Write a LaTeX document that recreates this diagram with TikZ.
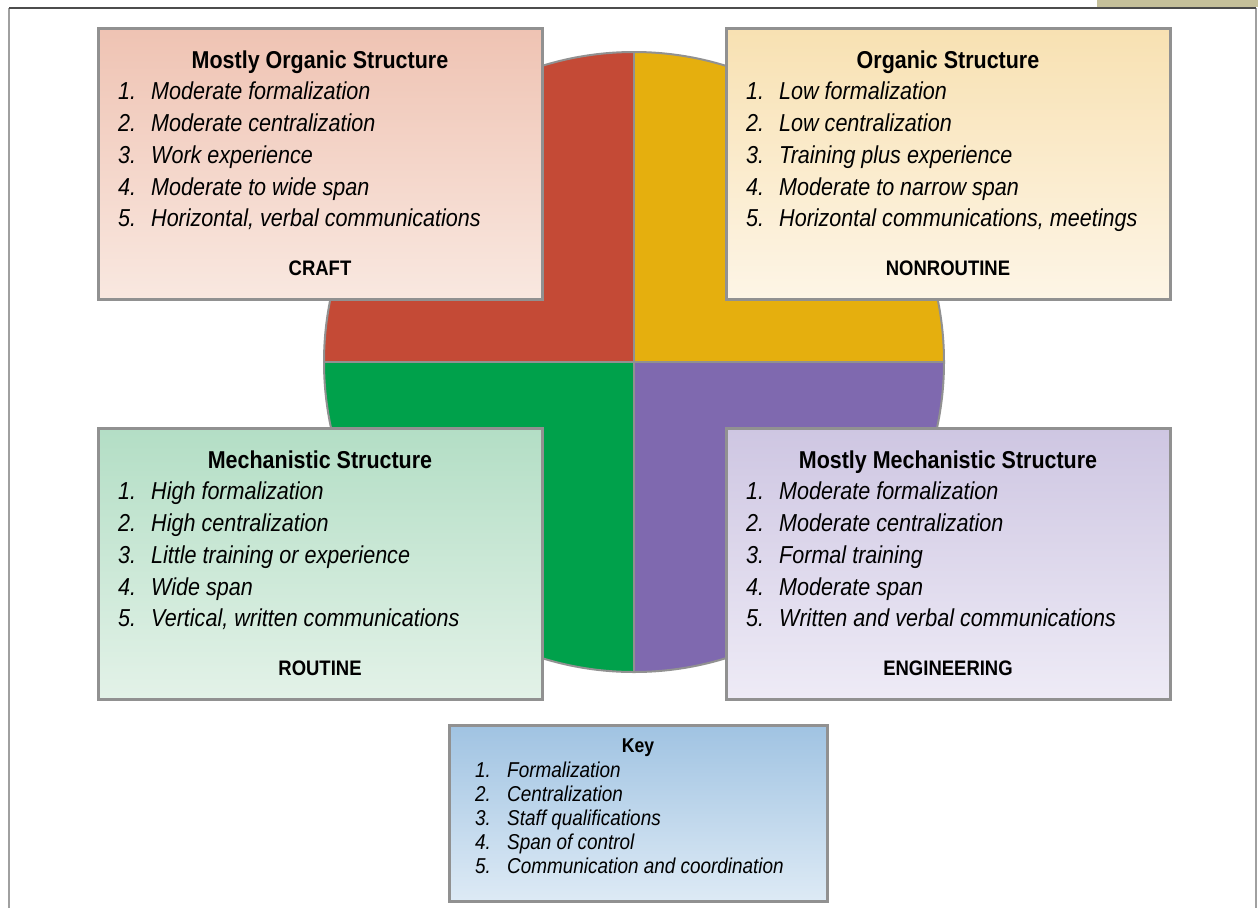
\documentclass[tikz,border=0pt]{standalone}
\usepackage{fontspec}
\setmainfont{Liberation Sans}[FakeStretch=0.88]
\usetikzlibrary{calc}
\definecolor{rust}{RGB}{196,74,54}
\definecolor{gold}{RGB}{229,175,14}
\definecolor{leaf}{RGB}{0,161,75}
\definecolor{violet}{RGB}{127,105,175}
\definecolor{rim}{RGB}{145,145,145}
\definecolor{frameline}{RGB}{160,160,160}
\definecolor{sand}{RGB}{197,192,154}
\definecolor{crafttop}{RGB}{239,195,179}
\definecolor{craftbot}{RGB}{249,232,224}
\definecolor{nontop}{RGB}{248,225,178}
\definecolor{nonbot}{RGB}{253,245,230}
\definecolor{routop}{RGB}{179,222,197}
\definecolor{roubot}{RGB}{227,242,232}
\definecolor{engtop}{RGB}{206,198,226}
\definecolor{engbot}{RGB}{238,235,246}
\definecolor{keytop}{RGB}{160,195,226}
\definecolor{keybot}{RGB}{221,234,245}
\tikzset{
  panel/.style 2 args={draw=rim,line width=3pt,top color=#1,bottom color=#2,
    minimum width=444pt,minimum height=271pt,inner sep=0pt,anchor=north west},
  ptitle/.style={font=\fontsize{24.4}{29}\selectfont\bfseries,inner sep=0pt,anchor=base},
  pitem/.style={font=\fontsize{24.5}{29}\selectfont\itshape,inner sep=0pt,anchor=base west},
  plabel/.style={font=\fontsize{21}{25}\selectfont\bfseries,inner sep=0pt,anchor=base},
  keytitle/.style={font=\fontsize{20}{24}\selectfont\bfseries,inner sep=0pt,anchor=base},
  keyitem/.style={font=\fontsize{21.5}{26}\selectfont\itshape,inner sep=0pt,anchor=base west},
  quarter/.style={fill=#1},
}
% one coloured box with title, numbered list and label
\newcommand{\panel}[8]{%
  \node[panel={#4}{#5}] (#1) at (#2,#3) {};
  \node[ptitle] (#1-title) at ($(#1.north)+(0,41.5)$) {#6};
  \foreach \txt [count=\i] in {#7} {
    \node[pitem] (#1-\i) at ($(#1.north west)+(21.5,41.5+31.75*\i)$) {\makebox[33pt][l]{\i.}\txt};
  }
  \node[plabel] (#1-label) at ($(#1.north)+(0,248.5)$) {#8};
}

\begin{document}
\begin{tikzpicture}[x=1pt,y=-1pt]
  \useasboundingbox (0,0) rectangle (1258,908);
  % frame
  \fill[sand] (1097,0) rectangle (1258,7);
  \draw[frameline,line width=2pt] (9,908) -- (9,8);
  \draw[frameline,line width=2pt] (1256,8) -- (1256,908);
  \draw[black!70,line width=1.5pt] (9,8) -- (1256,8);

  % circle in four quarters
  \coordinate (hub) at (634,362);
  \fill[quarter=rust] (hub) -- ++(-310,0) arc[start angle=180,end angle=270,radius=310] -- cycle;
  \fill[quarter=gold] (hub) -- ++(0,-310) arc[start angle=270,end angle=360,radius=310] -- cycle;
  \fill[quarter=violet] (hub) -- ++(310,0) arc[start angle=0,end angle=90,radius=310] -- cycle;
  \fill[quarter=leaf] (hub) -- ++(0,310) arc[start angle=90,end angle=180,radius=310] -- cycle;
  \draw[rim,line width=2pt] (hub) circle[radius=310];
  \draw[rim,line width=2pt] ($(hub)+(-310,0)$) -- ($(hub)+(310,0)$);
  \draw[rim,line width=2pt] ($(hub)+(0,-310)$) -- ($(hub)+(0,310)$);

  % boxes
  \panel{craft}{96.5}{26.5}{crafttop}{craftbot}{Mostly Organic Structure}
    {Moderate formalization,Moderate centralization,Work experience,
     Moderate to wide span,{Horizontal, verbal communications}}{CRAFT}
  \panel{nonroutine}{724.5}{26.5}{nontop}{nonbot}{Organic Structure}
    {Low formalization,Low centralization,Training plus experience,
     Moderate to narrow span,{Horizontal communications, meetings}}{NONROUTINE}
  \panel{routine}{96.5}{426.5}{routop}{roubot}{Mechanistic Structure}
    {High formalization,High centralization,Little training or experience,
     Wide span,{Vertical, written communications}}{ROUTINE}
  \panel{engineering}{724.5}{426.5}{engtop}{engbot}{Mostly Mechanistic Structure}
    {Moderate formalization,Moderate centralization,Formal training,
     Moderate span,Written and verbal communications}{ENGINEERING}

  % key
  \node[panel={keytop}{keybot},minimum width=378pt,minimum height=176pt] (key) at (447.5,723.5) {};
  \node[keytitle] (key-title) at ($(key.north)+(0,28.5)$) {Key};
  \foreach \txt [count=\i] in {Formalization,Centralization,Staff qualifications,
      Span of control,Communication and coordination} {
    \node[keyitem] (key-\i) at ($(key.north west)+(27.5,29.5+24*\i)$) {\makebox[32pt][l]{\i.}\txt};
  }
\end{tikzpicture}
\end{document}
